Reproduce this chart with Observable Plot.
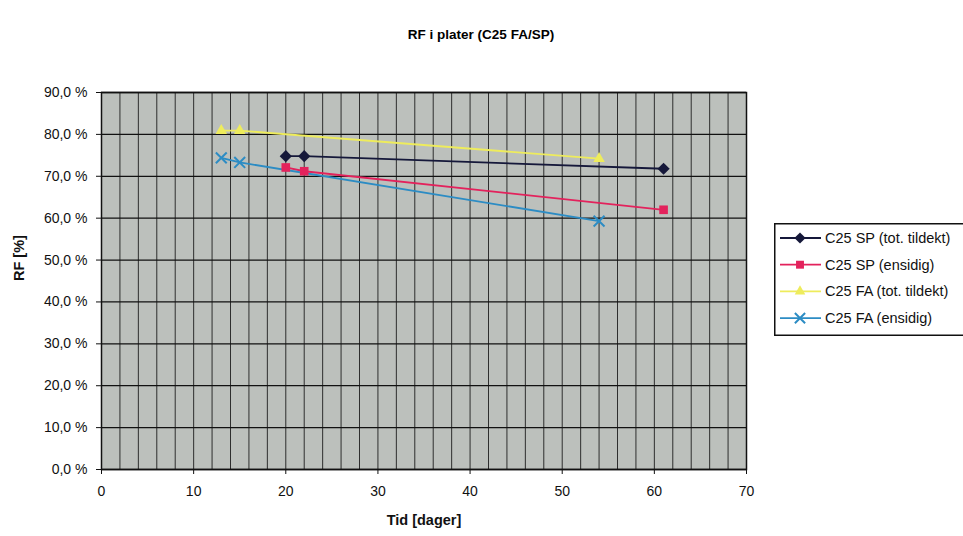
<!DOCTYPE html>
<html>
<head>
<meta charset="utf-8">
<script src="https://cdn.jsdelivr.net/npm/d3@7"></script>
<script src="https://cdn.jsdelivr.net/npm/@observablehq/plot@0.6"></script>
<style>
  body { margin: 0; background: #fff; font-family: "Liberation Sans", Arial, sans-serif; }
  #wrap { position: relative; width: 963px; height: 536px; overflow: hidden; }
  #title { height: 60px; width: 963px; font-weight: bold; font-size: 13.5px; }
  #title span { position: absolute; left: 481px; transform: translateX(-50%); top: 27px; white-space: nowrap; }
  #legend { position: absolute; left: 774px; top: 223px; }
</style>
</head>
<body>
<div id="wrap">
  <div id="title"><span>RF i plater (C25 FA/SP)</span></div>
  <div id="chart"></div>
  <div id="legend"></div>
</div>
<script>
const seriesNames = ["C25 SP (tot. tildekt)", "C25 SP (ensidig)", "C25 FA (tot. tildekt)", "C25 FA (ensidig)"];
const seriesColors = ["#15183a", "#e3225c", "#eeec5c", "#2c8cc4"];
const seriesSymbols = ["diamond2", "square2", "triangle2", "times"];

const spTotX = [20, 22, 61];
const spTotY = [74.8, 74.8, 71.8];
const spEnsX = [20, 22, 61];
const spEnsY = [72.1, 71.2, 62.0];
const faTotX = [13, 15, 54];
const faTotY = [80.9, 80.9, 74.2];
const faEnsX = [13, 15, 54];
const faEnsY = [74.4, 73.3, 59.3];

const xTicks = [0, 10, 20, 30, 40, 50, 60, 70];
const yTicks = [0, 10, 20, 30, 40, 50, 60, 70, 80, 90];
const xGrid = d3.range(0, 71, 2);

const xs = [spTotX, spEnsX, faTotX, faEnsX];
const ys = [spTotY, spEnsY, faTotY, faEnsY];
const data = [];
seriesNames.forEach((s, i) => xs[i].forEach((x, j) => data.push({series: s, x, y: ys[i][j]})));

const fmt = d => d.toFixed(1).replace(".", ",") + " %";
const font = "Liberation Sans, Arial, sans-serif";

const chart = Plot.plot({
  width: 963,
  height: 476,
  marginLeft: 101,
  marginRight: 217,
  marginTop: 32,
  marginBottom: 67,
  style: {fontFamily: font, fontSize: "14px", color: "#111", background: "white"},
  x: {domain: [0, 70]},
  y: {domain: [0, 90]},
  color: {domain: seriesNames, range: seriesColors},
  symbol: {domain: seriesNames, range: seriesSymbols},
  marks: [
    Plot.frame({fill: "#bcc0bc"}),
    Plot.ruleX(xGrid, {stroke: "#1e1e1e", strokeWidth: 1, strokeOpacity: 0.9}),
    Plot.ruleY(yTicks, {stroke: "#111", strokeWidth: 1.3}),
    Plot.frame({stroke: "#111", strokeWidth: 1.5}),
    Plot.axisX({ticks: xTicks, tickSize: 5, tickPadding: 12, label: null, fontSize: 14}),
    Plot.axisY({ticks: yTicks, tickSize: 5, tickPadding: 9, tickFormat: fmt, label: null, fontSize: 14}),
    Plot.line(data, {x: "x", y: "y", z: "series", stroke: "series", strokeWidth: 1.8}),
    Plot.dot(data.filter(d => d.series !== seriesNames[3]), {x: "x", y: "y", symbol: "series", fill: "series", r: 5.5}),
    Plot.dot(data.filter(d => d.series === seriesNames[3]), {x: "x", y: "y", symbol: "series", stroke: "series", strokeWidth: 2, r: 5}),
    Plot.text(["Tid [dager]"], {frameAnchor: "bottom", dy: 55, fontWeight: "bold", fontSize: 14.5}),
    Plot.text(["RF [%]"], {frameAnchor: "left", dx: -82, rotate: -90, fontWeight: "bold", fontSize: 14.5})
  ]
});
document.getElementById("chart").appendChild(chart);

// Legend
const lw = 200, lh = 113;
const leg = d3.select("#legend").append("svg").attr("width", lw).attr("height", lh)
  .style("font-family", font).style("font-size", "14.5px");
leg.append("rect").attr("x", 0.75).attr("y", 0.75).attr("width", lw + 10).attr("height", lh - 1.5)
  .attr("fill", "white").attr("stroke", "#111").attr("stroke-width", 1.5);
const symMap = {diamond2: d3.symbolDiamond2, square2: d3.symbolSquare2, triangle2: d3.symbolTriangle2, times: d3.symbolTimes};
seriesNames.forEach((s, i) => {
  const y = 15 + i * 26.7;
  const g = leg.append("g");
  g.append("line").attr("x1", 6).attr("x2", 47).attr("y1", y).attr("y2", y)
    .attr("stroke", seriesColors[i]).attr("stroke-width", 1.8);
  const path = d3.symbol(symMap[seriesSymbols[i]], i === 3 ? 70 : 80)();
  const p = g.append("path").attr("d", path).attr("transform", `translate(26,${y})`);
  if (i === 3) p.attr("fill", "none").attr("stroke", seriesColors[i]).attr("stroke-width", 2);
  else p.attr("fill", seriesColors[i]);
  g.append("text").attr("x", 51).attr("y", y).attr("dy", "0.35em").attr("fill", "#111").text(s);
});
</script>
</body>
</html>
